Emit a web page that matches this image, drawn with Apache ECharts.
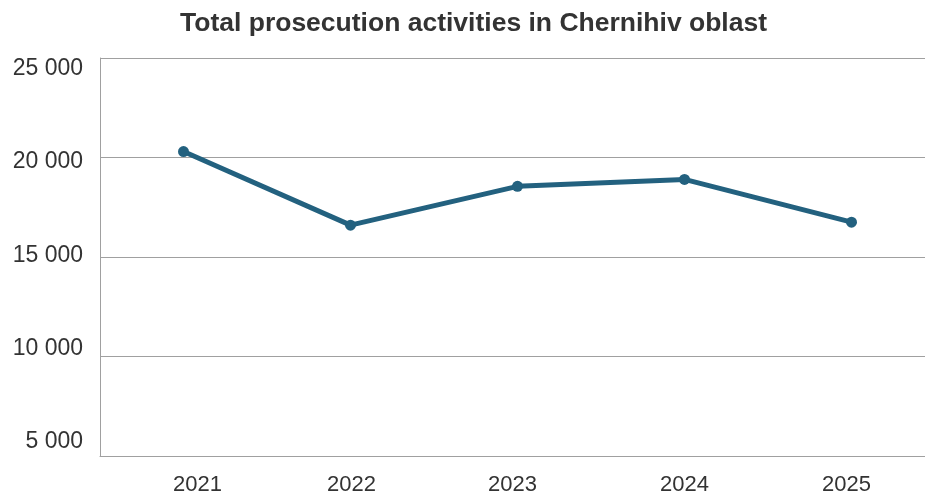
<!DOCTYPE html>
<html>
<head>
<meta charset="utf-8">
<script src="https://cdn.jsdelivr.net/npm/echarts@6/dist/echarts.min.js"></script>
<style>
  html, body { margin: 0; padding: 0; background: #ffffff; overflow: hidden; }
  #chart { width: 925px; height: 495px; }
</style>
</head>
<body>
<div id="chart"></div>
<script>
// Years on the horizontal axis
const years = ['2021', '2022', '2023', '2024', '2025'];
// Total prosecution activities per year
const activities = [20300, 16600, 18550, 18900, 16750];
// Values shown as labels on the vertical axis
const yTickValues = [5000, 10000, 15000, 20000, 25000];

const FONT = '"Liberation Sans", Arial, Helvetica, sans-serif';
const TEXT = '#333333';
const GRID_LINE = '#a0a0a0';
const LINE = '#23617f';

// Thousands separated by a space: 25 000
const fmtThousands = v => String(v).replace(/\B(?=(\d{3})+(?!\d))/g, ' ');

// Small horizontal nudges of the year labels under each point
const yearShift = [14, 1, -5, 0, -5];
const yearRich = {};
yearShift.forEach((s, i) => {
  yearRich['y' + i] = {
    fontFamily: FONT, fontSize: 22, color: TEXT,
    padding: s >= 0 ? [0, 0, 0, 2 * s] : [0, -2 * s, 0, 0]
  };
});

const chart = echarts.init(document.getElementById('chart'), null, { renderer: 'canvas' });

chart.setOption({
  backgroundColor: '#ffffff',
  animation: false,
  title: {
    text: 'Total prosecution activities in Chernihiv oblast',
    left: 175,
    top: 5,
    textStyle: { fontFamily: FONT, fontSize: 26.5, fontWeight: 'bold', color: TEXT }
  },
  // plot runs slightly past the right edge of the canvas
  grid: {
    left: 100, width: 835, top: 58, bottom: 39,
    containLabel: false,
    outerBoundsMode: 'none'
  },
  xAxis: {
    type: 'category',
    data: years,
    boundaryGap: true,
    axisLine: { show: true, lineStyle: { color: GRID_LINE, width: 1 } },
    axisTick: { show: false },
    axisLabel: {
      margin: 18,
      formatter: (v, i) => '{y' + i + '|' + v + '}',
      rich: yearRich
    },
    splitLine: { show: false }
  },
  yAxis: [
    {
      // scale and gridlines
      type: 'value',
      min: 5000,
      max: 25000,
      interval: 5000,
      axisLine: { show: true, lineStyle: { color: GRID_LINE, width: 1 } },
      axisTick: { show: false },
      axisLabel: { show: false },
      splitLine: { show: true, lineStyle: { color: GRID_LINE, width: 1 } }
    },
    {
      // tick labels, set in their own even rhythm down the left side
      type: 'value',
      position: 'left',
      min: 4250,
      max: 25562,
      axisLine: { show: false },
      axisTick: { show: false },
      splitLine: { show: false },
      axisLabel: {
        show: true,
        customValues: yTickValues,
        margin: 17,
        fontFamily: FONT,
        fontSize: 23,
        color: TEXT,
        formatter: v => fmtThousands(v)
      }
    }
  ],
  series: [
    {
      type: 'line',
      yAxisIndex: 0,
      data: activities,
      symbol: 'circle',
      symbolSize: 11,
      lineStyle: { color: LINE, width: 5 },
      itemStyle: { color: LINE },
      z: 5
    }
  ]
});
</script>
</body>
</html>
